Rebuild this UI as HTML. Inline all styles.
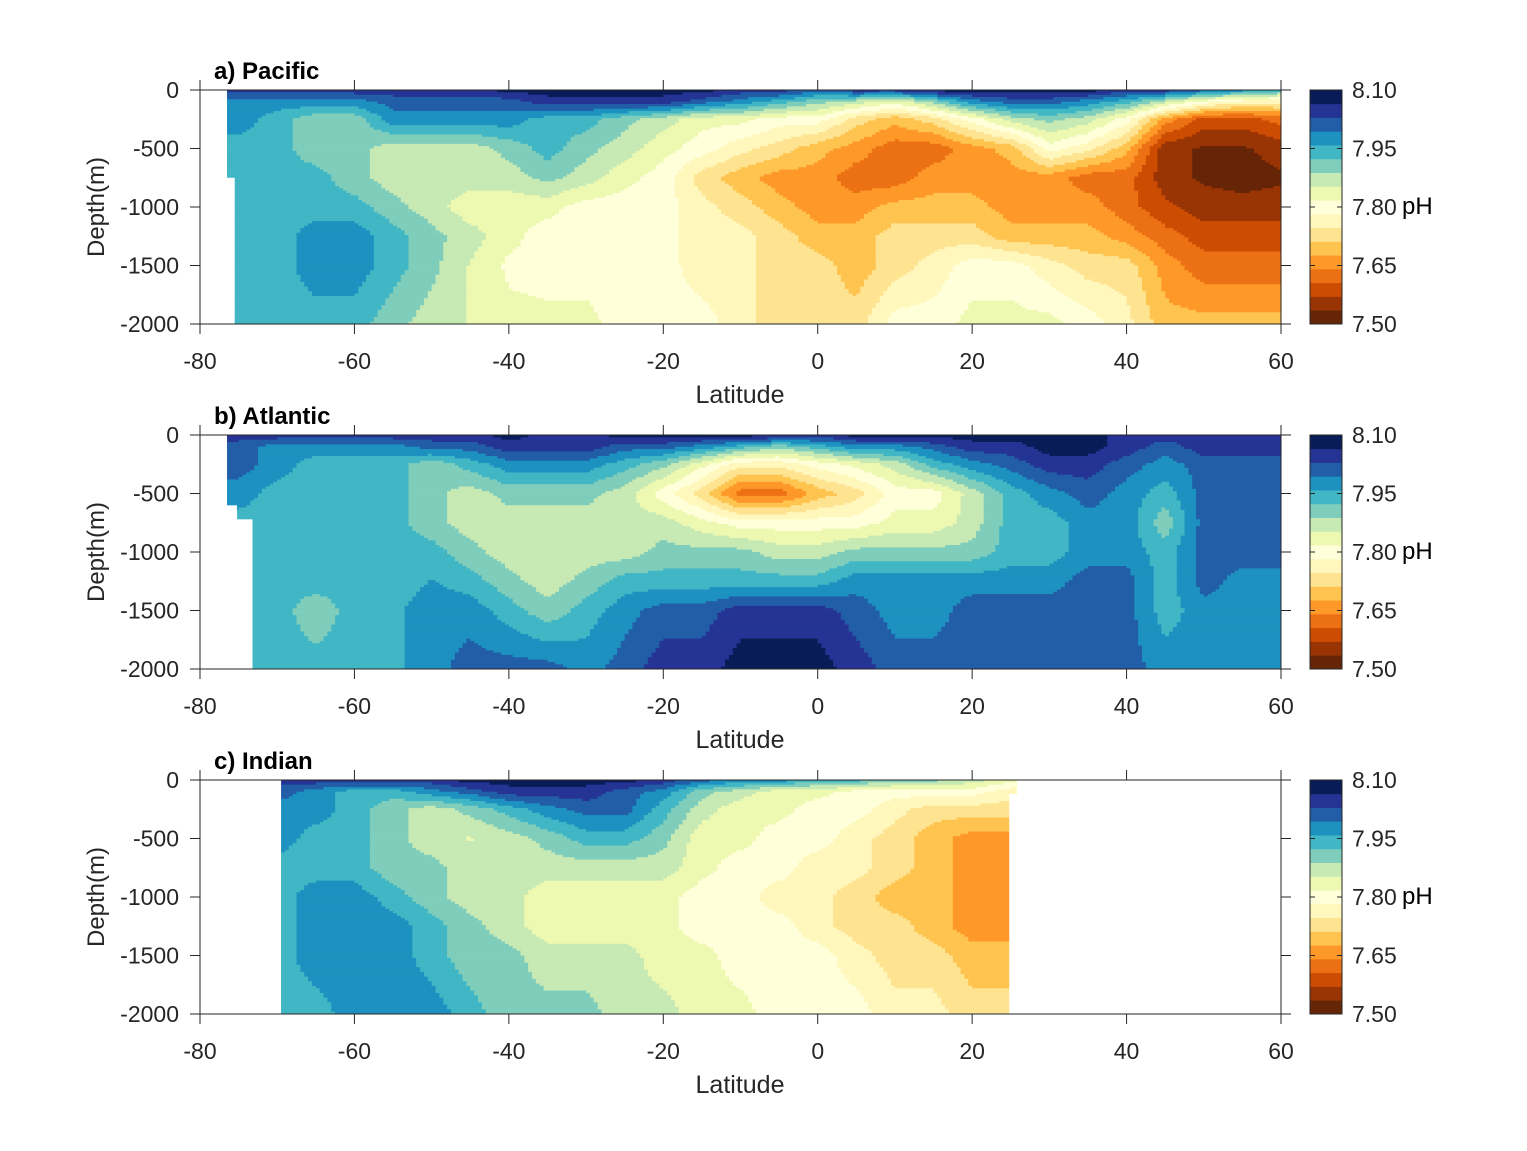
<!DOCTYPE html>
<html><head><meta charset="utf-8">
<style>
html,body{margin:0;padding:0;background:#fff;}
svg{display:block;font-family:"Liberation Sans",Arial,sans-serif;}
</style></head>
<body>
<svg id="fig" width="1527" height="1151" viewBox="0 0 1527 1151" xmlns="http://www.w3.org/2000/svg"></svg>
<script>
// ---------- data ----------
const depths = [0,100,250,500,750,1000,1250,1500,2000];
const latsFull = [-80,-75,-70,-65,-60,-55,-50,-45,-40,-35,-30,-25,-20,-15,-10,-5,0,5,10,15,20,25,30,35,40,45,50,55,60];
const latsIndian = [-70,-65,-60,-55,-50,-45,-40,-35,-30,-25,-20,-15,-10,-5,0,5,10,15,20,25];
const xTicks = [-80,-60,-40,-20,0,20,40,60];
const yTicks = [0,-500,-1000,-1500,-2000];
const cbTicks = ["7.50","7.65","7.80","7.95","8.10"];
const levelMin = 7.5, levelMax = 8.1, nLevels = 17;

const pacific = [
[8.05,8.05,8.05,8.05,8.05,8.05,8.05,8.05,8.08,8.08,8.08,8.08,8.08,8.08,8.05,8.05,8.01,8.05,8.05,8.08,8.08,8.08,8.08,8.08,8.05,8.05,8.01,7.98,7.94],
[7.98,7.98,7.98,7.98,7.98,8.01,8.01,8.01,8.01,8.05,8.05,8.05,8.05,8.01,7.98,7.94,7.90,7.87,7.83,7.90,7.98,8.01,8.01,7.98,7.94,7.87,7.80,7.76,7.76],
[7.98,7.98,7.94,7.90,7.90,7.98,7.98,7.98,7.98,7.94,7.94,7.90,7.87,7.83,7.83,7.80,7.80,7.73,7.69,7.73,7.80,7.87,7.90,7.87,7.80,7.66,7.59,7.59,7.62],
[7.94,7.94,7.94,7.90,7.90,7.87,7.87,7.87,7.90,7.94,7.90,7.87,7.83,7.80,7.76,7.73,7.69,7.66,7.62,7.62,7.66,7.69,7.80,7.76,7.69,7.55,7.53,7.53,7.55],
[7.94,7.94,7.94,7.94,7.90,7.87,7.87,7.87,7.87,7.90,7.87,7.83,7.80,7.73,7.69,7.66,7.66,7.62,7.62,7.66,7.66,7.66,7.66,7.62,7.62,7.55,7.53,7.52,7.53],
[7.94,7.94,7.94,7.94,7.94,7.90,7.87,7.83,7.83,7.83,7.80,7.80,7.80,7.76,7.73,7.69,7.66,7.66,7.69,7.69,7.69,7.66,7.66,7.66,7.62,7.58,7.55,7.55,7.55],
[7.94,7.94,7.94,7.98,7.98,7.94,7.90,7.87,7.83,7.80,7.80,7.80,7.80,7.76,7.76,7.73,7.69,7.69,7.73,7.73,7.73,7.69,7.69,7.69,7.66,7.62,7.59,7.59,7.59],
[7.94,7.94,7.94,7.98,7.98,7.94,7.90,7.85,7.81,7.80,7.80,7.80,7.80,7.76,7.76,7.73,7.73,7.69,7.73,7.76,7.80,7.80,7.76,7.73,7.73,7.66,7.62,7.62,7.62],
[7.94,7.94,7.94,7.94,7.94,7.90,7.87,7.85,7.83,7.83,7.83,7.80,7.80,7.80,7.76,7.73,7.73,7.73,7.80,7.80,7.83,7.83,7.83,7.80,7.76,7.69,7.69,7.69,7.69]
];
const atlantic = [
[8.05,8.05,8.05,8.05,8.05,8.05,8.05,8.05,8.08,8.05,8.05,8.08,8.08,8.08,8.08,8.08,8.05,8.08,8.08,8.08,8.08,8.08,8.08,8.08,8.05,8.05,8.05,8.05,8.05],
[8.01,8.01,7.98,7.98,7.98,7.98,8.01,8.01,8.05,8.05,8.05,8.01,8.01,7.98,7.94,7.90,7.94,7.98,7.98,8.01,8.05,8.05,8.08,8.08,8.05,8.01,8.05,8.05,8.05],
[8.01,8.01,7.98,7.94,7.94,7.94,7.90,7.94,7.98,7.98,7.98,7.94,7.90,7.83,7.76,7.76,7.80,7.83,7.87,7.94,7.98,8.01,8.05,8.05,8.01,7.98,8.01,8.01,8.01],
[7.98,7.98,7.94,7.94,7.94,7.94,7.90,7.87,7.90,7.90,7.90,7.87,7.80,7.73,7.62,7.62,7.69,7.73,7.80,7.80,7.87,7.94,7.98,8.01,7.98,7.94,8.01,8.01,8.01],
[7.94,7.94,7.94,7.94,7.94,7.94,7.90,7.87,7.87,7.87,7.87,7.87,7.87,7.83,7.80,7.80,7.80,7.80,7.83,7.83,7.87,7.94,7.94,7.98,7.98,7.90,8.01,8.01,8.01],
[7.94,7.94,7.94,7.94,7.94,7.94,7.94,7.90,7.87,7.87,7.87,7.87,7.90,7.90,7.90,7.87,7.87,7.90,7.90,7.90,7.90,7.94,7.94,7.98,7.98,7.94,8.01,8.01,8.01],
[7.94,7.94,7.94,7.94,7.94,7.94,7.96,7.94,7.90,7.87,7.90,7.94,7.94,7.94,7.94,7.94,7.94,7.98,7.98,7.98,7.98,7.98,7.98,8.01,8.01,7.94,8.01,7.98,7.98],
[7.94,7.94,7.94,7.90,7.94,7.95,7.98,7.98,7.94,7.90,7.94,7.98,8.01,8.01,8.05,8.05,8.05,8.01,7.98,7.98,8.01,8.01,8.01,8.01,8.01,7.94,7.98,7.98,7.98],
[7.94,7.94,7.94,7.94,7.94,7.95,7.98,8.01,8.01,8.01,7.98,8.01,8.05,8.05,8.08,8.08,8.08,8.05,8.01,8.01,8.01,8.01,8.01,8.01,8.01,7.98,7.98,7.98,7.98]
];
const indian = [
[8.05,8.05,8.05,8.05,8.05,8.08,8.08,8.08,8.08,8.08,8.05,8.01,7.98,7.98,7.94,7.94,7.90,7.90,7.87,7.83],
[8.01,7.98,7.94,7.94,7.98,8.01,8.05,8.05,8.05,8.01,7.98,7.90,7.87,7.83,7.83,7.80,7.80,7.80,7.80,7.76],
[7.98,7.98,7.94,7.90,7.87,7.90,7.94,7.98,8.01,8.01,7.94,7.87,7.83,7.83,7.80,7.80,7.76,7.73,7.73,7.73],
[7.98,7.94,7.94,7.90,7.87,7.85,7.87,7.90,7.94,7.94,7.90,7.83,7.83,7.80,7.80,7.76,7.73,7.69,7.66,7.66],
[7.94,7.94,7.94,7.90,7.90,7.87,7.87,7.87,7.87,7.87,7.87,7.83,7.80,7.80,7.76,7.76,7.73,7.69,7.66,7.66],
[7.94,7.98,7.98,7.94,7.90,7.87,7.87,7.83,7.83,7.83,7.83,7.80,7.80,7.76,7.76,7.73,7.69,7.69,7.66,7.66],
[7.94,7.98,7.98,7.98,7.94,7.90,7.87,7.83,7.83,7.83,7.83,7.80,7.80,7.80,7.76,7.73,7.73,7.69,7.66,7.66],
[7.94,7.98,7.98,7.98,7.94,7.90,7.90,7.87,7.87,7.87,7.83,7.83,7.80,7.80,7.80,7.76,7.73,7.73,7.69,7.69],
[7.94,7.94,7.98,7.98,7.98,7.94,7.90,7.90,7.90,7.87,7.87,7.83,7.83,7.80,7.80,7.80,7.76,7.76,7.73,7.73]
];
// coverage: data extent (latitude limits at given depths)
const pacificCoverDepth = [0,750,750,2000];
const pacificCoverLat = [-76.5,-76.5,-75.5,-75.5];
const pacificEndLat = 60;
const atlanticCoverDepth = [0,600,600,720,720,2000];
const atlanticCoverLat = [-76.5,-76.5,-75.2,-75.2,-73.2,-73.2];
const atlanticEndLat = 60;
const indianCoverDepth = [0,2000];
const indianCoverLat = [-69.5,-69.5];
const indianEndDepth = [0,120,120,2000];
const indianEndLat = [25.8,25.8,24.8,24.8];

const palette = ["#662506","#993404","#cc4c02","#ec7014","#fe9929","#fec44f","#fee391","#fff7bc","#ffffd9","#edf8b1","#c7e9b4","#7fcdbb","#41b6c4","#1d91c0","#225ea8","#253494","#081d58"];

// ---------- helpers ----------
const NS = "http://www.w3.org/2000/svg";
const svg = document.getElementById('fig');
function mk(tag, attrs, parent){const e=document.createElementNS(NS,tag);for(const k in attrs)e.setAttribute(k,attrs[k]);(parent||svg).appendChild(e);return e;}
const X0=200, X1=1281, PH=234;
const panelTops=[90,435,780];
const xS = lat => X0 + (lat+80)/140*(X1-X0);
const yS = (top,d) => top + d/2000*PH;
function colorOf(v){let k=Math.floor((v-levelMin)/((levelMax-levelMin)/nLevels));k=Math.max(0,Math.min(nLevels-1,k));return k;}
function sample(grid,lats,lat,d){
  let i=0; while(i<lats.length-2 && lat>lats[i+1]) i++;
  let j=0; while(j<depths.length-2 && d>depths[j+1]) j++;
  let tx=(lat-lats[i])/(lats[i+1]-lats[i]); tx=Math.max(0,Math.min(1,tx));
  let ty=(d-depths[j])/(depths[j+1]-depths[j]); ty=Math.max(0,Math.min(1,ty));
  const a=grid[j][i],b=grid[j][i+1],c=grid[j+1][i],e=grid[j+1][i+1];
  return (a*(1-tx)+b*tx)*(1-ty)+(c*(1-tx)+e*tx)*ty;
}

function drawPanel(p, title, grid, lats, coverD, coverL, endD, endL){
  const top=panelTops[p];
  const g=mk('g',{});
  
  
  const cid='clip'+p;
  const cp=mk('clipPath',{id:cid},g);
  let pts=[];
  for(let i=0;i<coverD.length;i++) pts.push(xS(coverL[i])+','+yS(top,coverD[i]));
  for(let i=endD.length-1;i>=0;i--) pts.push(xS(endL[i])+','+yS(top,endD[i]));
  mk('polygon',{points:pts.join(' ')},cp);
  const field=mk('g',{'clip-path':'url(#'+cid+')'},g);
  
  
  const latMin=lats[0], latMax=lats[lats.length-1]+1;
  const dLat=0.5, dD=20;
  for(let d=0; d<2000; d+=dD){
    let runStart=null, runK=null;
    for(let lat=Math.max(-80,latMin); lat<=Math.min(60,latMax)+1e-9; lat+=dLat){
      const k = lat<Math.min(60,latMax) ? colorOf(sample(grid,lats,lat+dLat/2,d+dD/2)) : -1;
      if(k!==runK){
        if(runK!==null && runK>=0){
          const r=mk('rect',{x:xS(runStart).toFixed(2),y:yS(top,d).toFixed(2),width:(xS(lat)-xS(runStart)+0.6).toFixed(2),height:(dD/2000*PH+0.6).toFixed(2),fill:palette[runK]},field);
          
          
        }
        runStart=lat; runK=k;
      }
    }
  }
  const box=mk('rect',{x:X0,y:top,width:X1-X0,height:PH,fill:'none',stroke:'#262626','stroke-width':1},g);
  
  
  xTicks.forEach(t=>{
    const x=xS(t);
    mk('line',{x1:x,y1:top+PH,x2:x,y2:top+PH+10,stroke:'#262626'},g);
    mk('line',{x1:x,y1:top,x2:x,y2:top-10,stroke:'#262626'},g);
    const tx=mk('text',{x:x,y:top+PH+45,'font-size':23,'text-anchor':'middle',fill:'#262626'},g);
    tx.textContent=t;
    
    
  });
  yTicks.forEach(t=>{
    const y=yS(top,-t);
    mk('line',{x1:X0,y1:y,x2:X0-10,y2:y,stroke:'#262626'},g);
    mk('line',{x1:X1,y1:y,x2:X1+10,y2:y,stroke:'#262626'},g);
    const tx=mk('text',{x:X0-21,y:y+8,'font-size':23,'text-anchor':'end',fill:'#262626'},g);
    tx.textContent=t;
    
    
  });
  const tt=mk('text',{x:214,y:top-11,'font-size':24,'font-weight':'bold',fill:'#000'},g);
  tt.textContent=title;
  
  
  const xl=mk('text',{x:740,y:top+313,'font-size':25,'text-anchor':'middle',fill:'#262626'},g);
  xl.textContent='Latitude';
  
  
  const yl=mk('text',{x:0,y:0,'font-size':24,'text-anchor':'middle',fill:'#262626',transform:'translate(104,'+(top+117)+') rotate(-90)'},g);
  yl.textContent='Depth(m)';
  
  
  const cb=mk('g',{},g);
  
  
  const cx=1310, cw=32, bh=PH/nLevels;
  for(let k=0;k<nLevels;k++){
    const r=mk('rect',{x:cx,y:(top+PH-(k+1)*bh).toFixed(2),width:cw,height:(bh+0.4).toFixed(2),fill:palette[k]},cb);
    
    
  }
  mk('rect',{x:cx,y:top,width:cw,height:PH,fill:'none',stroke:'#262626'},cb);
  cbTicks.forEach(t=>{
    const y=top+PH-(parseFloat(t)-levelMin)/(levelMax-levelMin)*PH;
    mk('line',{x1:cx+cw,y1:y,x2:cx+cw-5,y2:y,stroke:'#262626'},cb);
    mk('line',{x1:cx,y1:y,x2:cx+5,y2:y,stroke:'#262626'},cb);
    const tx=mk('text',{x:1352,y:y+8,'font-size':23,fill:'#262626'},cb);
    tx.textContent=t;
    
    
  });
  const ph=mk('text',{x:1402,y:top+124,'font-size':24,fill:'#000'},cb);
  ph.textContent='pH';
  
  
}

drawPanel(0,'a) Pacific',pacific,latsFull,pacificCoverDepth,pacificCoverLat,[0,2000],[pacificEndLat,pacificEndLat]);
drawPanel(1,'b) Atlantic',atlantic,latsFull,atlanticCoverDepth,atlanticCoverLat,[0,2000],[atlanticEndLat,atlanticEndLat]);
drawPanel(2,'c) Indian',indian,latsIndian,indianCoverDepth,indianCoverLat,indianEndDepth,indianEndLat);
</script>
</body></html>
